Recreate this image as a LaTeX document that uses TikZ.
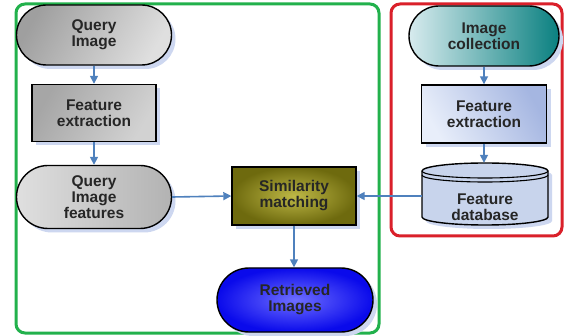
\documentclass[tikz,border=0pt]{standalone}
\usepackage{fontspec}
\setmainfont{Liberation Sans}
\usetikzlibrary{shapes.misc,arrows.meta,shadows}
\definecolor{frgreen}{RGB}{34,177,76}
\definecolor{frred}{RGB}{218,32,42}
\definecolor{arrblue}{RGB}{79,129,189}
\definecolor{shadowblue}{RGB}{205,215,240}
\begin{document}
\begin{tikzpicture}[x=1pt,y=-1pt,
  lbl/.style={font=\fontsize{15.5}{16}\selectfont\bfseries, align=center, text=black!85},
  sh/.style={drop shadow={shadow xshift=4pt, shadow yshift=-4pt, fill=shadowblue, opacity=1}},
  stadium/.style={lbl, sh, rounded rectangle, draw=black, line width=1.4pt, inner sep=0pt},
  boxnode/.style={lbl, sh, rectangle, draw=black, line width=1.4pt, inner sep=0pt},
  arr/.style={draw=arrblue, line width=1.6pt, -{Triangle[length=8pt,width=8pt]}},
  frame/.style={line width=3pt, rounded corners=9pt}
  ]
\useasboundingbox (0,0) rectangle (564,336);
\fill[white] (0,0) rectangle (564,336);
% frames
\draw[frame, frgreen] (16,4) rectangle (379,333);
\draw[frame, frred] (391,4) rectangle (562,236);
% left column
\node[stadium, minimum width=155pt, minimum height=60pt, left color=gray!75, right color=gray!25, shading angle=60] (qimg) at (94,35) {Query\\Image};
\node[boxnode, minimum width=124pt, minimum height=57pt, left color=gray!70, right color=gray!35, shading angle=60] (fe1) at (94,113) {Feature\\extraction};
\node[stadium, minimum width=155pt, minimum height=63pt, left color=gray!25, right color=gray!60] (qf) at (94,197) {Query\\Image\\features};
% middle
\node[boxnode, minimum width=124pt, minimum height=58pt, inner color={rgb,255:red,190;green,184;blue,70}, outer color={rgb,255:red,110;green,106;blue,14}] (sim) at (294,196) {Similarity\\matching};
\node[stadium, minimum width=156pt, minimum height=64pt, inner color={rgb,255:red,110;green,110;blue,255}, outer color={rgb,255:red,10;green,10;blue,235}] (ret) at (295,300) {Retrieved\\Images};
% right column
\node[stadium, minimum width=150pt, minimum height=60pt, left color={rgb,255:red,215;green,235;blue,238}, right color={rgb,255:red,10;green,128;blue,128}] (icoll) at (484,36) {Image\\collection};
\node[boxnode, minimum width=125pt, minimum height=58pt, left color={rgb,255:red,232;green,238;blue,250}, right color={rgb,255:red,165;green,182;blue,225}, shading angle=120] (fe2) at (484,114) {Feature\\extraction};
% database cylinder
\fill[shadowblue] (426,175) -- (426,221) arc[start angle=180,end angle=360,x radius=63pt,y radius=8pt] -- (552,175) arc[start angle=0,end angle=180,x radius=63pt,y radius=8pt] -- cycle;
\draw[line width=1.4pt, fill={rgb,255:red,200;green,212;blue,236}] (422,171) -- (422,217) arc[start angle=180,end angle=360,x radius=63pt,y radius=8pt] -- (548,171) arc[start angle=0,end angle=180,x radius=63pt,y radius=8pt] -- cycle;
\draw[line width=1.1pt] (422,171) arc[start angle=180,end angle=360,x radius=63pt,y radius=7pt];
\draw[line width=1.1pt] (422,175) arc[start angle=180,end angle=360,x radius=63pt,y radius=7pt];
\node[minimum width=126pt, minimum height=62pt, inner sep=0pt] (db) at (485,194) {};
\node[lbl] (dbt) at (485,207) {Feature\\database};
% connectors
\draw[arr] (qimg.south) -- (fe1.north);
\draw[arr] (fe1.south) -- (qf.north);
\draw[arr] (qf.east) -- (sim.west);
\draw[arr] (sim.south) -- (sim.south |- ret.north);
\draw[arr] (icoll.south) -- (icoll.south |- fe2.north);
\draw[arr] (fe2.south) -- (fe2.south |- db.north);
\draw[arr] (db.west |- sim.east) -- (sim.east);
\end{tikzpicture}
\end{document}
